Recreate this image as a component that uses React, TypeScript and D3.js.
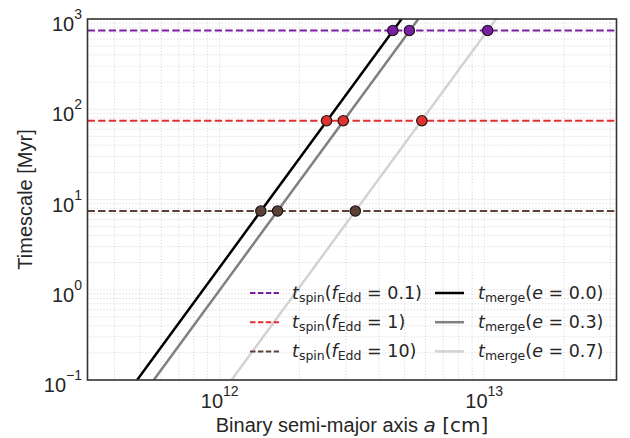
import React from "react";
import * as d3 from "d3";

// spin-up timescales (Myr) for each Eddington fraction
const fEddLabels = ["0.1", "1", "10"];
const spinTimes = [746, 74.6, 7.46];
const spinColors = ["#7b1fa2", "#e03131", "#5d4037"];

// merger lines: semi-major axis (cm) where t_merge = 0.1 Myr and 1000 Myr
const eccLabels = ["0.0", "0.3", "0.7"];
const mergeStart = [4.87e11, 5.63e11, 1.108e12];
const mergeEnd = [4.87e12, 5.63e12, 1.108e13];
const mergeColors = ["#000000", "#808080", "#d3d3d3"];

// crossing points (cm), one row per spin line, one value per merger line
const crossings = [
  [4.51e12, 5.21e12, 1.03e13],
  [2.535e12, 2.93e12, 5.81e12],
  [1.43e12, 1.654e12, 3.255e12]
];

const xTickPowers = [12, 13];
const yTickPowers = [-1, 0, 1, 2, 3];

const W = 630;
const H = 438;
const margin = { top: 19, right: 13.5, bottom: 58, left: 87.5 };

const App = () => {
  const x = d3
    .scaleLog()
    .domain([10 ** 11.5, 10 ** 13.5])
    .range([margin.left, W - margin.right]);
  const y = d3
    .scaleLog()
    .domain([0.1, 1000])
    .range([H - margin.bottom, margin.top]);

  const [x0, x1] = x.range();
  const [y0, y1] = y.range();
  const line = d3
    .line<[number, number]>()
    .x((d) => x(d[0]))
    .y((d) => y(d[1]));

  const tickFont = "'Liberation Sans', Arial, sans-serif";
  const mathFont = "'DejaVu Sans', sans-serif";
  const textColor = "#262626";

  const legendRow = (i: number) => 293 + i * 29.2;

  return (
    <svg width={W} height={H} style={{ position: "absolute", left: 0, top: 0 }}>
      <defs>
        <clipPath id="plotArea">
          <rect x={x0} y={y1} width={x1 - x0} height={y0 - y1} />
        </clipPath>
      </defs>
      <rect x={0} y={0} width={W} height={H} fill="#fff" />

      {/* grid */}
      <g stroke="#cccccc" strokeWidth={0.9} strokeDasharray="1,2.2">
        {x.ticks().map((t, i) => (
          <line key={"gx" + i} x1={x(t)} x2={x(t)} y1={y1} y2={y0} />
        ))}
        {y.ticks().map((t, i) => (
          <line key={"gy" + i} x1={x0} x2={x1} y1={y(t)} y2={y(t)} />
        ))}
      </g>

      <g clipPath="url(#plotArea)">
        {spinTimes.map((t, i) => (
          <line
            key={"s" + i}
            x1={x0}
            x2={x1}
            y1={y(t)}
            y2={y(t)}
            stroke={spinColors[i]}
            strokeWidth={2}
            strokeDasharray="7.4,3.2"
          />
        ))}
        {mergeStart.map((a, i) => (
          <path
            key={"m" + i}
            d={line([
              [a, 0.1],
              [mergeEnd[i], 1000]
            ]) || ""}
            fill="none"
            stroke={mergeColors[i]}
            strokeWidth={2.5}
          />
        ))}
      </g>

      {crossings.map((row, i) =>
        row.map((a, j) => (
          <circle
            key={`c${i}-${j}`}
            cx={x(a)}
            cy={y(spinTimes[i])}
            r={5.2}
            fill={spinColors[i]}
            stroke="#111"
            strokeWidth={1.1}
          />
        ))
      )}

      {/* legend */}
      <g fontFamily={mathFont} fontSize={17.5} fill={textColor}>
        {fEddLabels.map((f, i) => (
          <g key={"ls" + i}>
            <line
              x1={250}
              x2={279}
              y1={legendRow(i)}
              y2={legendRow(i)}
              stroke={spinColors[i]}
              strokeWidth={2}
              strokeDasharray="5.5,2.4"
            />
            <text x={292} y={legendRow(i) + 6}>
              <tspan fontStyle="italic">t</tspan>
              <tspan fontSize={12.5} dy={3}>spin</tspan>
              <tspan dy={-3}>(</tspan>
              <tspan fontStyle="italic">f</tspan>
              <tspan fontSize={12.5} dy={3}>Edd</tspan>
              <tspan dy={-3}>{" = " + f + ")"}</tspan>
            </text>
          </g>
        ))}
        {eccLabels.map((e, i) => (
          <g key={"lm" + i}>
            <line
              x1={435}
              x2={464}
              y1={legendRow(i)}
              y2={legendRow(i)}
              stroke={mergeColors[i]}
              strokeWidth={2.5}
            />
            <text x={478} y={legendRow(i) + 6}>
              <tspan fontStyle="italic">t</tspan>
              <tspan fontSize={12.5} dy={3}>merge</tspan>
              <tspan dy={-3}>(</tspan>
              <tspan fontStyle="italic">e</tspan>
              <tspan>{" = " + e + ")"}</tspan>
            </text>
          </g>
        ))}
      </g>

      {/* frame */}
      <rect
        x={x0}
        y={y1}
        width={x1 - x0}
        height={y0 - y1}
        fill="none"
        stroke="#333"
        strokeWidth={1.6}
      />

      {/* tick labels */}
      <g fontFamily={tickFont} fill={textColor}>
        {xTickPowers.map((p) => (
          <text key={"xt" + p} x={x(10 ** p)} y={y0 + 28} textAnchor="middle">
            <tspan fontSize={20}>10</tspan>
            <tspan fontSize={14} dy={-12}>{p}</tspan>
          </text>
        ))}
        {yTickPowers.map((p) => (
          <text key={"yt" + p} x={82} y={y(10 ** p) + 12} textAnchor="end">
            <tspan fontSize={20}>10</tspan>
            <tspan fontSize={14} dy={-12}>{p === -1 ? "\u22121" : p}</tspan>
          </text>
        ))}
      </g>

      {/* axis labels */}
      <text
        x={(x0 + x1) / 2}
        y={432}
        textAnchor="middle"
        fontFamily={tickFont}
        fontSize={20}
        fill={textColor}
      >
        Binary semi-major axis <tspan fontFamily={mathFont} fontStyle="italic">a</tspan>
        <tspan fontFamily={mathFont}> [cm]</tspan>
      </text>
      <text
        transform={`translate(32,${(y0 + y1) / 2}) rotate(-90)`}
        textAnchor="middle"
        fontFamily={tickFont}
        fontSize={20}
        fill={textColor}
      >
        Timescale [Myr]
      </text>
    </svg>
  );
};

export default App;
